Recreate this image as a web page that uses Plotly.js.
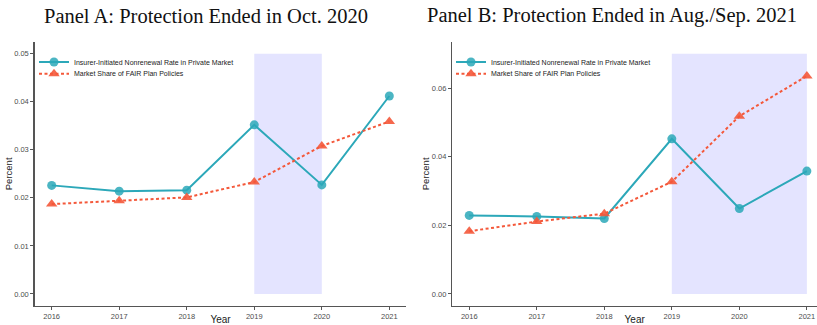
<!DOCTYPE html>
<html><head><meta charset="utf-8">
<script src="https://cdn.plot.ly/plotly-3.0.1.min.js"></script>
<style>html,body{margin:0;padding:0;background:#fff;overflow:hidden}</style>
</head><body><div id="chart" style="width:817px;height:325px"></div>
<script>
const years = [2016, 2017, 2018, 2019, 2020, 2021];
const nonrenewalA = [0.0226, 0.0214, 0.0216, 0.0352, 0.0227, 0.0412];
const fairShareA = [0.0187, 0.0194, 0.0201, 0.0233, 0.0308, 0.0359];
const nonrenewalB = [0.0229, 0.0226, 0.0220, 0.0452, 0.0249, 0.0358];
const fairShareB = [0.0183, 0.0211, 0.0234, 0.0327, 0.0518, 0.0635];
const shadeA = {x0: 2019, x1: 2020, y0: 0, y1: 0.05};
const shadeB = {x0: 2019, x1: 2021, y0: 0, y1: 0.07};
const seriesNames = ["Insurer-Initiated Nonrenewal Rate in Private Market", "Market Share of FAIR Plan Policies"];
const titles = ["Panel A: Protection Ended in Oct. 2020", "Panel B: Protection Ended in Aug./Sep. 2021"];

const teal = "#2CA8B9", red = "#F4583A";
function traces(xa, ya, blue, redv, leg1, leg2) {
  return [
    {x: years, y: blue, xaxis: xa, yaxis: ya, type: "scatter", mode: "lines+markers", name: seriesNames[0], legend: leg1,
     line: {color: teal, width: 2}, marker: {symbol: "circle", size: 9, color: teal, opacity: 0.85}},
    {x: years, y: redv, xaxis: xa, yaxis: ya, type: "scatter", mode: "lines+markers", name: seriesNames[1], legend: leg2,
     line: {color: red, width: 2, dash: "3px,2.5px"}, marker: {symbol: "triangle-up", size: 10, color: red, opacity: 0.9}}
  ];
}
const data = traces("x", "y", nonrenewalA, fairShareA, "legend", "legend3")
  .concat(traces("x2", "y2", nonrenewalB, fairShareB, "legend2", "legend4"));

const tickFont = {family: "Liberation Sans, Arial", size: 7.5, color: "#4D4D4D"};
function xax(domain, range, anchor) {
  return {domain: domain, range: range, anchor: anchor, tickvals: years, ticktext: years.map(String),
    showgrid: false, zeroline: false, showline: true, linecolor: "#555", linewidth: 1.5,
    ticks: "outside", ticklen: 3, tickcolor: "#555", tickfont: tickFont,
    title: {text: "Year", font: {family: "Liberation Sans, Arial", size: 10, color: "#222"}, standoff: 1}};
}
function yax(range, dtick, anchor) {
  return {domain: [0.0585, 0.8717], range: range, anchor: anchor, dtick: dtick, tick0: 0, tickformat: ".2f",
    showgrid: false, zeroline: false, showline: true, linecolor: "#555", linewidth: 1.5,
    ticks: "outside", ticklen: 3, tickcolor: "#555", tickfont: tickFont,
    title: {text: "Percent", font: {family: "Liberation Sans, Arial", size: 9.5, color: "#222"}, standoff: 0}};
}
const legFont = {family: "Liberation Sans, Arial", size: 7, color: "#222"};
function leg(xpx, ypx) {
  return {x: xpx / 817, y: 1 - ypx / 325, xanchor: "left", yanchor: "middle", font: legFont,
    bgcolor: "rgba(0,0,0,0)", itemwidth: 30, borderwidth: 0};
}
const layout = {
  width: 817, height: 325, margin: {l: 0, r: 0, t: 0, b: 0},
  paper_bgcolor: "#fff", plot_bgcolor: "#fff", showlegend: true,
  xaxis: xax([0.0426, 0.4972], [2015.75, 2021.25], "y"),
  yaxis: yax([-0.0025, 0.0525], 0.01, "x"),
  xaxis2: xax([0.5537, 1.0], [2015.75, 2021.15], "y2"),
  yaxis2: yax([-0.0035, 0.0735], 0.02, "x2"),
  legend: leg(34, 62),
  legend3: leg(34, 73.7),
  legend2: leg(451, 62),
  legend4: leg(451, 73.7),
  shapes: [
    {type: "rect", xref: "x", yref: "y", x0: shadeA.x0, x1: shadeA.x1, y0: shadeA.y0, y1: shadeA.y1, fillcolor: "#E4E4FF", line: {width: 0}, layer: "below"},
    {type: "rect", xref: "x2", yref: "y2", x0: shadeB.x0, x1: shadeB.x1, y0: shadeB.y0, y1: shadeB.y1, fillcolor: "#E4E4FF", line: {width: 0}, layer: "below"}
  ],
  annotations: [
    {text: titles[0], xref: "paper", yref: "paper", x: 206 / 817, y: 1 - 16 / 325, showarrow: false, xanchor: "center", yanchor: "middle", font: {family: "Liberation Serif, Times New Roman", size: 20.5, color: "#111"}},
    {text: titles[1], xref: "paper", yref: "paper", x: 612 / 817, y: 1 - 16 / 325, showarrow: false, xanchor: "center", yanchor: "middle", font: {family: "Liberation Serif, Times New Roman", size: 20.5, color: "#111"}}
  ]
};
Plotly.newPlot("chart", data, layout, {displayModeBar: false, staticPlot: true});
</script></body></html>
